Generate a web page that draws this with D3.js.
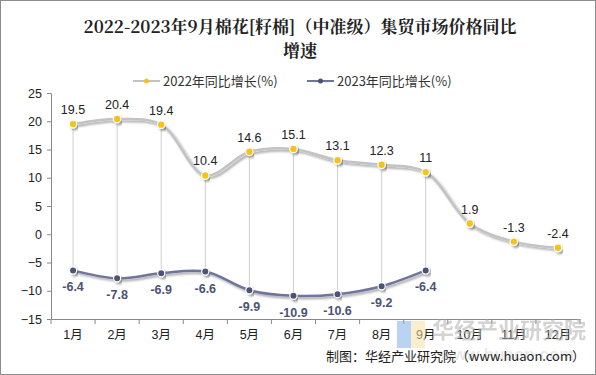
<!DOCTYPE html>
<html><head><meta charset="utf-8">
<script src="https://cdn.jsdelivr.net/npm/d3@7"></script>
<style>body{margin:0;background:#fff}svg{display:block}</style>
</head><body>
<svg id="c" width="596" height="375"></svg>
<script>
const categories = ["1月","2月","3月","4月","5月","6月","7月","8月","9月","10月","11月","12月"];
const series2022 = [19.5,20.4,19.4,10.4,14.6,15.1,13.1,12.3,11,1.9,-1.3,-2.4];
const series2023 = [-6.4,-7.8,-6.9,-6.6,-9.9,-10.9,-10.6,-9.2,-6.4];
const yTicks = [25,20,15,10,5,0,-5,-10,-15];
const seriesNames = ["2022年同比增长(%)","2023年同比增长(%)"];
const titleLines = ["2022-2023年9月棉花[籽棉]（中准级）集贸市场价格同比","增速"];
const sourceText = "制图：华经产业研究院（www.huaon.com）";

const svg = d3.select("#c");
const W=596,H=375;
const FONT = "'Liberation Sans', Arial, 'Noto Sans CJK SC', sans-serif";
svg.append("rect").attr("x",0.5).attr("y",0.5).attr("width",W-1).attr("height",H-1)
  .attr("fill","#fff").attr("stroke","#8c8c8c");

const defs = svg.append("defs");
const f = defs.append("filter").attr("id","sh").attr("x","-10%").attr("y","-50%").attr("width","120%").attr("height","200%");
f.append("feDropShadow").attr("dx",2).attr("dy",2).attr("stdDeviation",1.3).attr("flood-color","#000").attr("flood-opacity",0.35);

const x = d3.scaleBand().domain(categories).range([51,580]);
const y = d3.scaleLinear().domain([-15,25]).range([319,93]);

// title
svg.selectAll("text.title").data(titleLines).join("text")
  .attr("x",300).attr("y",(d,i)=>33+i*24).attr("text-anchor","middle")
  .attr("font-family","'Noto Serif CJK SC','Noto Sans CJK SC',serif").attr("font-weight","bold")
  .attr("font-size",17).attr("fill","#222").text(d=>d);

// y axis
const yAxis = d3.axisLeft(y).tickValues(yTicks).tickSize(4).tickSizeOuter(0);
const ga = svg.append("g").attr("transform","translate(51,0)").call(yAxis);
ga.select(".domain").attr("stroke","#888");
ga.selectAll(".tick line").attr("stroke","#888");
ga.selectAll(".tick text").attr("font-family",FONT).attr("font-size",12.5).attr("fill","#222").attr("x",-9);

// x axis
const xAxis = d3.axisBottom(x).tickSize(0).tickSizeOuter(0);
const gx = svg.append("g").attr("transform","translate(0,319)").call(xAxis);
gx.select(".domain").attr("stroke","#888");
gx.selectAll(".tick text").attr("font-family",FONT).attr("font-size",12.5).attr("fill","#222").attr("dy","1.35em");
const bounds = categories.map(c=>x(c)).concat([x.range()[1]]);
svg.append("g").selectAll("line").data(bounds).join("line")
  .attr("x1",d=>d).attr("x2",d=>d).attr("y1",319).attr("y2",324).attr("stroke","#888");

const cx = c => x(c)+x.bandwidth()/2;

// high-low lines
svg.append("g").selectAll("line").data(series2023).join("line")
  .attr("x1",(d,i)=>cx(categories[i])).attr("x2",(d,i)=>cx(categories[i]))
  .attr("y1",(d,i)=>y(series2022[i])).attr("y2",d=>y(d))
  .attr("stroke","#cfcfcf").attr("stroke-width",1);

const line = d3.line().x((d,i)=>cx(categories[i])).y(d=>y(d)).curve(d3.curveCatmullRom.alpha(0.5));

svg.append("path").datum(series2022).attr("d",line).attr("fill","none")
  .attr("stroke","#c3c3c3").attr("stroke-width",2.5).attr("filter","url(#sh)");
svg.append("path").datum(series2023).attr("d",line).attr("fill","none")
  .attr("stroke","#70749c").attr("stroke-width",2.5).attr("filter","url(#sh)");

svg.append("g").selectAll("circle").data(series2022).join("circle")
  .attr("cx",(d,i)=>cx(categories[i])).attr("cy",d=>y(d)).attr("r",3.8)
  .attr("fill","#f6c21c").attr("stroke","#fff").attr("stroke-width",1.2).attr("filter","url(#sh)");
svg.append("g").selectAll("circle").data(series2023).join("circle")
  .attr("cx",(d,i)=>cx(categories[i])).attr("cy",d=>y(d)).attr("r",3.6)
  .attr("fill","#4d5275").attr("stroke","#fff").attr("stroke-width",1.2).attr("filter","url(#sh)");

// labels
svg.append("g").selectAll("text").data(series2022).join("text")
  .attr("x",(d,i)=>cx(categories[i])).attr("y",d=>y(d)-10).attr("text-anchor","middle")
  .attr("font-family",FONT).attr("font-size",12.5).attr("fill","#222").text(d=>d);
svg.append("g").selectAll("text").data(series2023).join("text")
  .attr("x",(d,i)=>cx(categories[i])).attr("y",d=>y(d)+21).attr("text-anchor","middle")
  .attr("font-family",FONT).attr("font-size",12.5).attr("font-weight","bold").attr("fill","#4d5275").text(d=>d);

// legend
const leg = [{x:133,c:"#c3c3c3",m:"#f6c21c"},{x:307,c:"#70749c",m:"#4d5275"}];
leg.forEach((l,i)=>{
  const g = svg.append("g");
  g.append("line").attr("x1",l.x).attr("x2",l.x+27).attr("y1",81).attr("y2",81).attr("stroke",l.c).attr("stroke-width",2);
  g.append("circle").attr("cx",l.x+13.5).attr("cy",81).attr("r",2.5).attr("fill",l.m);
  g.append("text").attr("x",l.x+30).attr("y",86).attr("font-family","'Noto Sans CJK SC',sans-serif")
    .attr("font-size",13).attr("fill","#333").text(seriesNames[i]);
});

// watermark
const wm = svg.append("g").attr("opacity",0.55);
wm.append("rect").attr("x",397).attr("y",321).attr("width",14).attr("height",27).attr("fill","#7fb1ee");
wm.append("rect").attr("x",411).attr("y",321).attr("width",14).attr("height",27).attr("fill","#f6e3a0");
wm.append("text").attr("x",432).attr("y",338).attr("font-family","'Noto Sans CJK SC',sans-serif").attr("font-weight","bold")
  .attr("font-size",22).attr("fill","#b0b0b0").text("华经产业研究院");
wm.append("text").attr("x",440).attr("y",360).attr("font-family",FONT).attr("font-weight","bold")
  .attr("font-size",17).attr("fill","#d8d8d8").text("www.huaon.com");

// source
svg.append("text").attr("x",585).attr("y",361).attr("text-anchor","end")
  .attr("font-family","'Noto Sans CJK SC',sans-serif").attr("font-size",13).attr("fill","#222").text(sourceText);
</script>
</body></html>
